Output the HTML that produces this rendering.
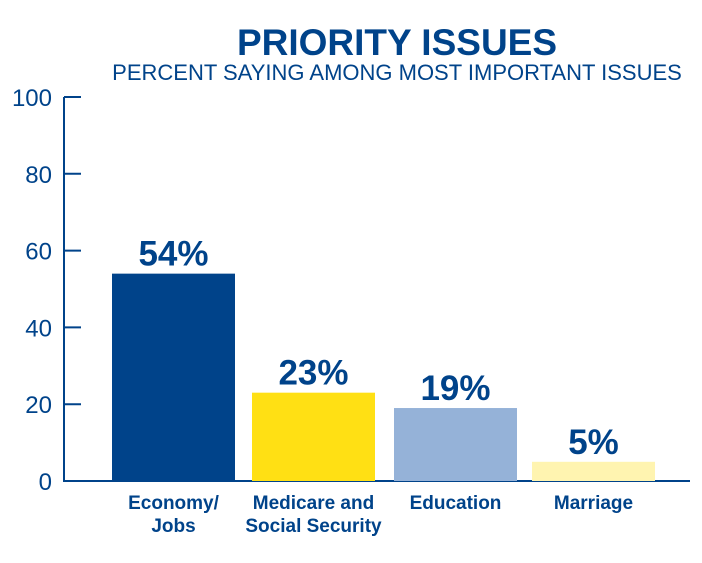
<!DOCTYPE html>
<html><head><meta charset="utf-8"><style>
html,body{margin:0;padding:0;background:#fff;}
svg{display:block;font-family:"Liberation Sans",Arial,sans-serif;}
</style></head><body>
<svg id="chart" width="702" height="563" viewBox="0 0 702 563">
<text x="397" y="55" text-anchor="middle" font-size="37" font-weight="bold" fill="#00438a">PRIORITY ISSUES</text>
<text x="397" y="80" text-anchor="middle" font-size="22" fill="#00438a">PERCENT SAYING AMONG MOST IMPORTANT ISSUES</text>
<g id="axis"></g>
<g id="bars"></g>
</svg>
<script>
const categories = [["Economy/","Jobs"],["Medicare and","Social Security"],["Education"],["Marriage"]];
const values = [54, 23, 19, 5];
const valueLabels = ["54%","23%","19%","5%"];
const tickValues = [0,20,40,60,80,100];
const colors = ["#00438a","#ffe014","#95b2d8","#fff4b0"];
const NS="http://www.w3.org/2000/svg";
const y0=481, y100=97, axisX=64;
function yScale(v){return y0-(y0-y100)*v/100;}
const barLefts=[112,252,394,532], barW=123;
function xScale(i){return barLefts[i];}
function mk(tag,attrs,parent){const e=document.createElementNS(NS,tag);for(const k in attrs)e.setAttribute(k,attrs[k]);parent.appendChild(e);return e;}
const ax=document.getElementById('axis'), bg=document.getElementById('bars');
let l=mk('line',{x1:axisX,y1:yScale(100),x2:axisX,y2:y0,stroke:"#00438a","stroke-width":2},ax);


l=mk('line',{x1:axisX-1,y1:y0,x2:690,y2:y0,stroke:"#00438a","stroke-width":2},ax);


tickValues.forEach(t=>{
  const y=yScale(t);
  const tk=mk('line',{x1:axisX,y1:y,x2:81,y2:y,stroke:"#00438a","stroke-width":2},ax);
  
  
  const tx=mk('text',{x:52,y:y+9,"text-anchor":"end","font-size":24,fill:"#00438a"},ax);
  tx.textContent=t;
  
  
});
values.forEach((v,i)=>{
  const x=xScale(i), y=yScale(v);
  const r=mk('rect',{x:x,y:y,width:barW,height:y0-y,fill:colors[i]},bg);
  
  
  const vl=mk('text',{x:x+barW/2,y:y-8,"text-anchor":"middle","font-size":35,"font-weight":"bold",fill:"#00438a"},bg);
  vl.textContent=valueLabels[i];
  
  
  categories[i].forEach((line,j)=>{
    const cl=mk('text',{x:x+barW/2,y:509+j*23,"text-anchor":"middle","font-size":19,"font-weight":"bold",fill:"#00438a"},bg);
    cl.textContent=line;
    
    
  });
});
</script>
</body></html>
